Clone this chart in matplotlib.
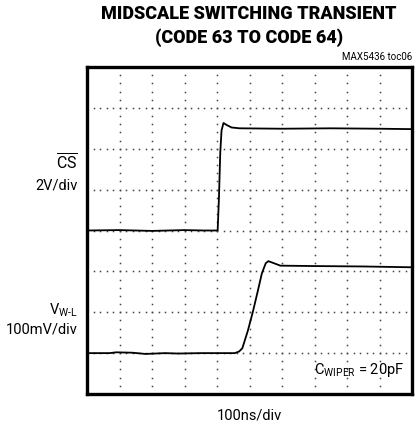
import numpy as np
import matplotlib
matplotlib.use('agg')
import matplotlib.pyplot as plt

# scope traces, x in time divisions (100ns/div), y in screen divisions
cs_t = [0.0, 1.0, 2.0, 3.0, 3.6, 4.02, 4.06, 4.10, 4.14, 4.20, 4.30, 4.45, 4.70, 6.0, 7.5, 9.0, 10.0]
cs_v = [4.0, 4.01, 3.99, 4.01, 4.0, 4.0, 4.8, 5.9, 6.45, 6.63, 6.58, 6.52, 6.50, 6.49, 6.50, 6.49, 6.48]

vwl_t = [0.0, 0.7, 0.9, 1.4, 1.8, 2.4, 2.8, 3.5, 4.55, 4.68, 4.78, 4.95, 5.10, 5.25, 5.38, 5.50, 5.58, 5.75, 5.95, 7.0, 8.5, 10.0]
vwl_v = [1.0, 1.0, 1.02, 1.01, 0.98, 1.0, 0.99, 1.0, 1.0, 1.04, 1.12, 1.55, 2.0, 2.5, 2.95, 3.2, 3.25, 3.2, 3.14, 3.13, 3.12, 3.1]

n_xdiv = 10
n_ydiv = 8

fig = plt.figure(figsize=(4.17, 4.27), dpi=100)
ax = fig.add_axes([87 / 417, 32 / 427, 325 / 417, 327 / 427])
ax.set_xlim(0, n_xdiv)
ax.set_ylim(0, n_ydiv)

# dotted graticule, 5 dots per division
for gx in range(1, n_xdiv):
    ys = np.arange(0, n_ydiv + 0.01, 0.2)
    ax.plot(np.full_like(ys, gx), ys, ls='none', marker='s', ms=1.1, color='#444444', mew=0)
for gy in range(1, n_ydiv):
    xs = np.arange(0, n_xdiv + 0.01, 0.2)
    ax.plot(xs, np.full_like(xs, gy), ls='none', marker='s', ms=1.1, color='#444444', mew=0)

ax.plot(cs_t, cs_v, color='black', lw=1.3, solid_joinstyle='round')
ax.plot(vwl_t, vwl_v, color='black', lw=1.3, solid_joinstyle='round')

ax.set_xticks([])
ax.set_yticks([])
for s in ax.spines.values():
    s.set_linewidth(2.4)

fam = ['Roboto', 'DejaVu Sans']
plt.rcParams['mathtext.fontset'] = 'custom'
plt.rcParams['mathtext.rm'] = 'Roboto'

fig.text(249 / 417, 1 - 14 / 427, 'MIDSCALE SWITCHING TRANSIENT', ha='center', va='center',
         fontsize=13, fontweight='heavy', family=fam)
fig.text(249 / 417, 1 - 38 / 427, '(CODE 63 TO CODE 64)', ha='center', va='center',
         fontsize=13, fontweight='heavy', family=fam)
fig.text(412 / 417, 1 - 57 / 427, 'MAX5436 toc06', ha='right', va='center',
         fontsize=7, family=fam)

fig.text(78 / 417, 1 - 163 / 427, r'$\overline{\mathrm{CS}}$', ha='right', va='center',
         fontsize=11.5)
fig.text(78 / 417, 1 - 185 / 427, '2V/div', ha='right', va='center', fontsize=10.5, family=fam)
fig.text(78 / 417, 1 - 310 / 427, r'V$_{\mathrm{W\text{-}L}}$', ha='right', va='center',
         fontsize=10.5, family=fam)
fig.text(78 / 417, 1 - 330 / 427, '100mV/div', ha='right', va='center', fontsize=10.5, family=fam)

fig.text(404 / 417, 1 - 370 / 427, r'C$_{\mathrm{WIPER}}$ = 20pF',
         ha='right', va='center', fontsize=10.5, family=fam)
fig.text(249 / 417, 1 - 416 / 427, '100ns/div', ha='center', va='center', fontsize=10.5, family=fam)

fig.savefig('out.png', dpi=100)
